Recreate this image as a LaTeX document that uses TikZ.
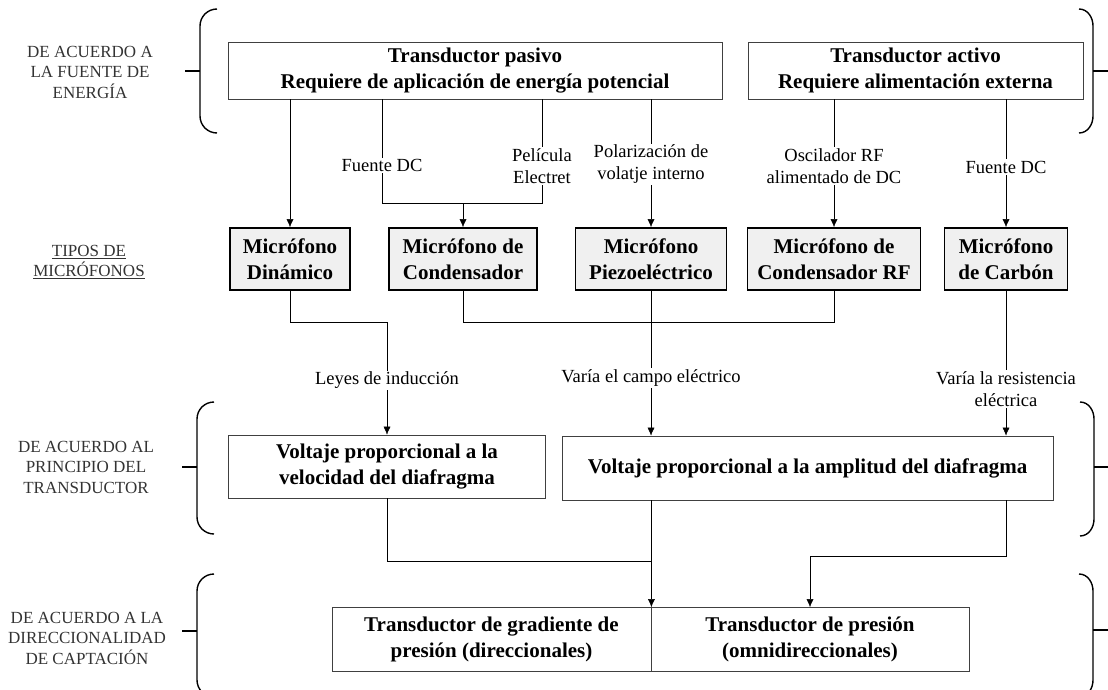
\documentclass[tikz,border=0pt]{standalone}
\usepackage{fontspec}
\setmainfont{Liberation Serif}
\usetikzlibrary{arrows.meta}

\begin{document}
\begin{tikzpicture}[x=1pt,y=-1pt,
	caja/.style={draw=black!75,fill=white,line width=0.8pt,align=center,inner sep=0pt,
		font=\bfseries\fontsize{21}{26}\selectfont,minimum height=57pt},
	micro/.style={caja,draw=black,fill=black!6,line width=1.8pt,minimum height=62pt},
	etiq/.style={fill=white,align=center,inner sep=1.5pt,font=\fontsize{18.5}{22}\selectfont},
	grupo/.style={align=center,text=black!80,font=\fontsize{17}{20.5}\selectfont},
	flecha/.style={-{Latex[length=8pt,width=7pt]}},
	llave/.style={line width=1.4pt}]
			\useasboundingbox (0,0) rectangle (1108,690);
			% fuente de energia
			\node[caja,minimum width=494pt] (pasivo) at (475,70.5) {Transductor pasivo\\Requiere de aplicación de energía potencial};
			\node[caja,minimum width=335pt] (activo) at (915.5,70.5) {Transductor activo\\Requiere alimentación externa};
			% tipos de microfonos
			\node[micro,minimum width=120pt] (dinam) at (290,259) {Micrófono\\Dinámico};
			\node[micro,minimum width=148pt] (cond) at (463,259) {Micrófono de\\Condensador};
			\node[micro,minimum width=151pt] (piezo) at (651,259) {Micrófono\\Piezoeléctrico};
			\node[micro,minimum width=173pt] (condrf) at (834,259) {Micrófono de\\Condensador RF};
			\node[micro,minimum width=123pt] (carbon) at (1006,259) {Micrófono\\de Carbón};
			% principio del transductor
			\node[caja,minimum width=317pt,minimum height=63pt] (velocidad) at (387,466.5) {Voltaje proporcional a la\\velocidad del diafragma};
			\node[caja,minimum width=491pt,minimum height=64pt] (amplitud) at (807.5,468) {Voltaje proporcional a la amplitud del diafragma};
			% direccionalidad
			\node[caja,minimum width=319pt,minimum height=64pt] (gradiente) at (491.5,639.5) {Transductor de gradiente de\\presión (direccionales)};
			\node[caja,minimum width=318pt,minimum height=64pt] (presion) at (810,639.5) {Transductor de presión\\(omnidireccionales)};
			% textos de la izquierda
			\node[grupo] (fuente) at (90,72) {DE ACUERDO A\\LA FUENTE DE\\ENERGÍA};
			\node[grupo] (tipos) at (89,262) {\underline{TIPOS DE}\\\underline{MICRÓFONOS}};
			\node[grupo] (principio) at (86,467) {DE ACUERDO AL\\PRINCIPIO DEL\\TRANSDUCTOR};
			\node[grupo] (captacion) at (87,638) {DE ACUERDO A LA\\DIRECCIONALIDAD\\DE CAPTACIÓN};
			% conexiones de arriba
			\coordinate (c1) at (382,203);
			\coordinate (c2) at (542,203);
			\draw[flecha] (pasivo.south -| dinam.north) -- (dinam.north);
			\draw (pasivo.south -| c1) -- node[etiq,pos=0.64]{Fuente DC} (c1) -- (c2) -- node[etiq,pos=0.36]{Película\\Electret} (pasivo.south -| c2);
			\draw[flecha] (cond.north |- c1) -- (cond.north);
			\draw[flecha] (pasivo.south -| piezo.north) -- node[etiq,pos=0.51]{Polarización de\\volatje interno} (piezo.north);
			\draw[flecha] (activo.south -| condrf.north) -- node[etiq,pos=0.52]{Oscilador RF\\alimentado de DC} (condrf.north);
			\draw[flecha] (activo.south -| carbon.north) -- node[etiq,pos=0.53]{Fuente DC} (carbon.north);
			% conexiones del medio
			\coordinate (c3) at (387,322);
			\draw[flecha] (dinam.south) |- (c3) -- node[etiq,pos=0.52]{Leyes de inducción} (velocidad.north);
			\draw (cond.south) |- (c3 -| condrf.south) -- (condrf.south);
			\draw[flecha] (piezo.south) -- node[etiq,pos=0.6]{Varía el campo eléctrico} (piezo.south |- amplitud.north);
			\draw[flecha] (carbon.south) -- node[etiq,pos=0.68]{Varía la resistencia\\eléctrica} (carbon.south |- amplitud.north);
			% conexiones de abajo
			\coordinate (c5) at (387,561);
			\coordinate (c6) at (1006,556);
			\draw (velocidad.south) -- (c5) -- (c5 -| gradiente.north east);
			\draw[flecha] (amplitud.south -| gradiente.north east) -- (gradiente.north east);
			\draw[flecha] (amplitud.south -| carbon.south) -- (c6) -| (presion.north);
			% llaves
			\foreach \xa/\ya/\yb/\yt in {200/9/133/71, 197/402/534/467, 197/574/697/631}
			{
				\draw[llave] (\xa+17,\ya) to[out=180,in=90] (\xa,\ya+17) -- (\xa,\yb-17) to[out=-90,in=180] (\xa+17,\yb);
				\draw[llave] (\xa-15,\yt) -- (\xa,\yt);
			}
			\foreach \xa/\ya/\yb/\yt in {1093/9/133/71, 1094/402/536/467, 1093/574/697/630}
			{
				\draw[llave] (\xa-14,\ya) to[out=0,in=90] (\xa,\ya+17) -- (\xa,\yb-17) to[out=-90,in=0] (\xa-14,\yb);
				\draw[llave] (\xa,\yt) -- (1108,\yt);
			}
		\end{tikzpicture}
\end{document}
